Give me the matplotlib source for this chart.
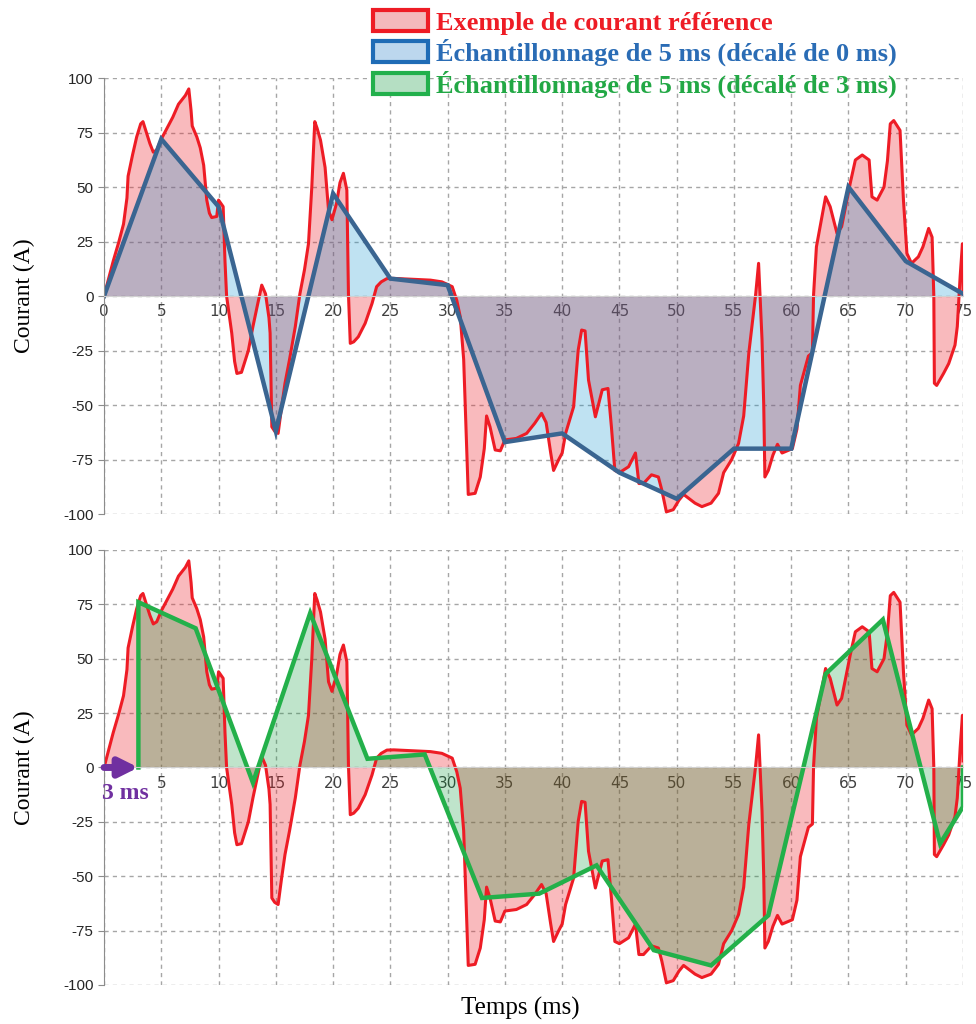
import matplotlib
matplotlib.use("Agg")
import matplotlib.pyplot as plt
from matplotlib.patches import Patch

plt.rcParams["axes.unicode_minus"] = False

# Courant de reference (temps en ms, courant en A)
t_ref = [0.0, 0.4, 0.8, 1.3, 1.7, 2.0, 2.1, 2.5, 2.85, 3.2, 3.4, 3.7, 4.0, 4.3, 4.6,
         5.0, 5.5, 6.0, 6.5, 6.8, 7.1, 7.4, 7.6, 7.7, 8.1, 8.4, 8.7, 8.8, 8.97, 9.2,
         9.4, 9.84, 10.0, 10.4, 10.56, 10.7, 11.15, 11.4, 11.6, 12.0, 12.3, 12.6, 13.0,
         13.4, 13.77, 14.1, 14.4, 14.5, 14.65, 14.9, 15.2, 15.5, 15.8, 16.2, 16.7, 17.1,
         17.5, 17.85, 18.14, 18.4, 18.6, 18.9, 19.3, 19.6, 19.9, 20.3, 20.6, 20.9, 21.2,
         21.34, 21.5, 21.8, 22.2, 22.8, 23.4, 23.8, 24.2, 24.7, 25.3, 26.5, 28.5, 29.5,
         30.4, 30.8, 31.1, 31.4, 31.7, 31.8, 32.4, 32.85, 33.2, 33.4, 33.7, 34.15, 34.6,
         35.0, 36.0, 36.9, 37.6, 38.2, 38.6, 39.0, 39.25, 39.7, 40.0, 40.3, 41.0, 41.4,
         41.7, 42.0, 42.3, 42.9, 43.5, 44.0, 44.3, 44.6, 45.0, 45.8, 46.4, 46.7, 47.1,
         47.8, 48.4, 48.7, 49.1, 49.7, 50.2, 50.6, 51.6, 52.2, 53.0, 53.65, 54.1, 54.8,
         55.4, 55.85, 56.3, 56.9, 57.15, 57.45, 57.6, 57.7, 58.0, 58.4, 58.8, 59.2, 60.1,
         60.5, 60.8, 61.5, 61.85, 61.95, 62.2, 63.0, 63.4, 64.0, 64.4, 65.15, 65.6, 66.2,
         66.8, 67.05, 67.5, 68.1, 68.4, 68.65, 68.95, 69.5, 69.8, 70.1, 70.5, 71.1, 71.5,
         72.0, 72.3, 72.45, 72.5, 72.7, 73.3, 73.75, 74.3, 74.5, 74.75, 74.95, 75.0]
i_ref = [0, 8, 16, 25, 33, 45, 55, 65, 73, 79, 80, 75, 70, 66, 67,
         72, 77, 82, 88, 90, 92, 95, 85, 78, 73, 68, 60, 54, 44, 38,
         36, 36.5, 44, 41, 16, 0, -17, -30, -35.5, -35, -30, -25, -14,
         -4, 5, 1, -10, -17, -60, -62, -63, -51, -40, -29, -14, 1,
         12, 24, 50, 80, 77, 71.5, 59, 39.4, 35, 42.5, 52, 56.3, 48.6,
         1, -21.7, -21, -18.7, -12.5, -3.4, 4.3, 6.5, 8, 8.1, 7.8, 7.3, 6.5,
         4.3, -2, -9.5, -29, -75, -91, -90.5, -83, -70, -55, -60, -70.6, -71,
         -66, -65.3, -63, -58.4, -53.8, -58, -72, -80, -75, -72, -63, -50.8, -24.8,
         -15.6, -16, -38.5, -55.4, -43, -42.4, -60, -80, -81, -78.3, -72, -86, -86,
         -82, -83, -89, -99, -98, -93.6, -91, -95, -96.6, -95, -90.5, -81, -75,
         -67.6, -55, -26, 1, 15, -20, -50, -83, -80, -73, -68, -72, -70,
         -61, -41, -27.5, -26, 0.5, 22.6, 45.5, 41, 28.7, 31.8, 51.7, 62.4, 64.7,
         62.4, 45.5, 44, 50, 62, 79, 80.5, 76, 44, 19.6, 15, 18, 22.6,
         31, 27, 0, -40, -41, -35.5, -31, -22.5, -14, 9, 24, 3]

# Echantillonnage de 5 ms, decale de 0 ms
t_ech0 = [0, 5, 10, 15, 20, 25, 30, 35, 40, 45, 50, 55, 60, 65, 70, 75]
i_ech0 = [0, 72, 41, -62, 47, 8, 5, -67, -63, -81, -93, -70, -70, 50, 16, 1]

# Echantillonnage de 5 ms, decale de 3 ms
t_ech3 = [3, 3, 8, 13, 18, 23, 28, 33, 38, 43, 48, 53, 58, 63, 68, 73, 75, 75]
i_ech3 = [0, 76, 64, -7, 71, 4, 6, -60, -58, -45, -84, -91, -68, 43, 68, -35, -18, 0]

x_ticks = list(range(0, 76, 5))
y_ticks = list(range(-100, 101, 25))

legend_labels = ["Exemple de courant référence",
                 "Échantillonnage de 5 ms (décalé de 0 ms)",
                 "Échantillonnage de 5 ms (décalé de 3 ms)"]

RED = "#ee1c25"
BLUE_LINE = "#3a6591"
GREEN_LINE = "#23b04a"
PURPLE = "#7030a0"


def style_axes(ax):
    ax.set_xlim(0, 75)
    ax.set_ylim(-100, 100)
    ax.set_xticks(x_ticks)
    ax.set_yticks(y_ticks)
    ax.grid(True, color="#a6a6a6", linestyle=(0, (3, 3)), linewidth=1)
    ax.set_axisbelow(True)
    ax.spines["top"].set_visible(False)
    ax.spines["right"].set_visible(False)
    ax.spines["bottom"].set_position(("data", 0))
    ax.spines["bottom"].set_color("#d0d0d0")
    ax.spines["bottom"].set_linewidth(0.8)
    ax.spines["left"].set_color("#8c8c8c")
    ax.tick_params(axis="x", length=0, pad=6, labelsize=11, labelcolor="#404040")
    ax.tick_params(axis="y", length=4, direction="out", color="#8c8c8c",
                   labelsize=11, labelcolor="#262626")
    for lab in ax.get_yticklabels():
        lab.set_family("Liberation Sans")
    ax.set_ylabel("Courant (A)", family="Liberation Serif", fontsize=17)
    ax.yaxis.set_label_coords(-0.08, 0.5)


fig = plt.figure(figsize=(9.76, 10.24), dpi=100)
ax1 = fig.add_axes([0.1066, 0.4980, 0.8801, 0.4258])
ax2 = fig.add_axes([0.1066, 0.0381, 0.8801, 0.4248])

# haut : decale de 0 ms
ax1.fill_between(t_ref, i_ref, 0, color=RED, alpha=0.3, linewidth=0)
ax1.fill_between(t_ech0, i_ech0, 0, color="#008fcf", alpha=0.25, linewidth=0)
ax1.plot(t_ref, i_ref, color=RED, lw=2.2)
ax1.plot(t_ech0, i_ech0, color=BLUE_LINE, lw=3.2, solid_joinstyle="miter")
style_axes(ax1)

# bas : decale de 3 ms
ax2.fill_between(t_ref, i_ref, 0, color=RED, alpha=0.3, linewidth=0)
ax2.fill_between(t_ech3, i_ech3, 0, color="#009430", alpha=0.25, linewidth=0)
ax2.plot(t_ref, i_ref, color=RED, lw=2.2)
ax2.plot(t_ech3, i_ech3, color=GREEN_LINE, lw=3.2, solid_joinstyle="miter")
style_axes(ax2)
ax2.set_xticklabels([""] + [str(v) for v in x_ticks[1:]])

ax2.annotate("", xy=(3, 0), xytext=(0, 0),
             arrowprops=dict(arrowstyle="-|>", color=PURPLE, lw=5,
                             mutation_scale=28, shrinkA=0, shrinkB=0))
ax2.text(1.85, -12, "3 ms", color=PURPLE, family="Liberation Serif",
         weight="bold", fontsize=17, ha="center", va="center")

ax2.text(0.485, -0.055, "Temps (ms)", transform=ax2.transAxes, ha="center",
         va="center", family="Liberation Serif", fontsize=18)

handles = [Patch(facecolor="#f4b9bc", edgecolor=RED, linewidth=3),
           Patch(facecolor="#bcd7ee", edgecolor="#1f6cb6", linewidth=3),
           Patch(facecolor="#b5dfc3", edgecolor="#22b04c", linewidth=3)]
leg = fig.legend(handles, legend_labels, loc="upper left",
                 bbox_to_anchor=(373 / 976, 1 - 10 / 1024), frameon=False,
                 prop={"family": "Liberation Serif", "weight": "bold", "size": 19},
                 handlelength=2.1, handleheight=0.85, handletextpad=0.3,
                 labelspacing=0.16, borderpad=0, borderaxespad=0)
for txt, c in zip(leg.get_texts(), [RED, "#2a6cb5", "#22a845"]):
    txt.set_color(c)

fig.savefig("out.png", dpi=100)
